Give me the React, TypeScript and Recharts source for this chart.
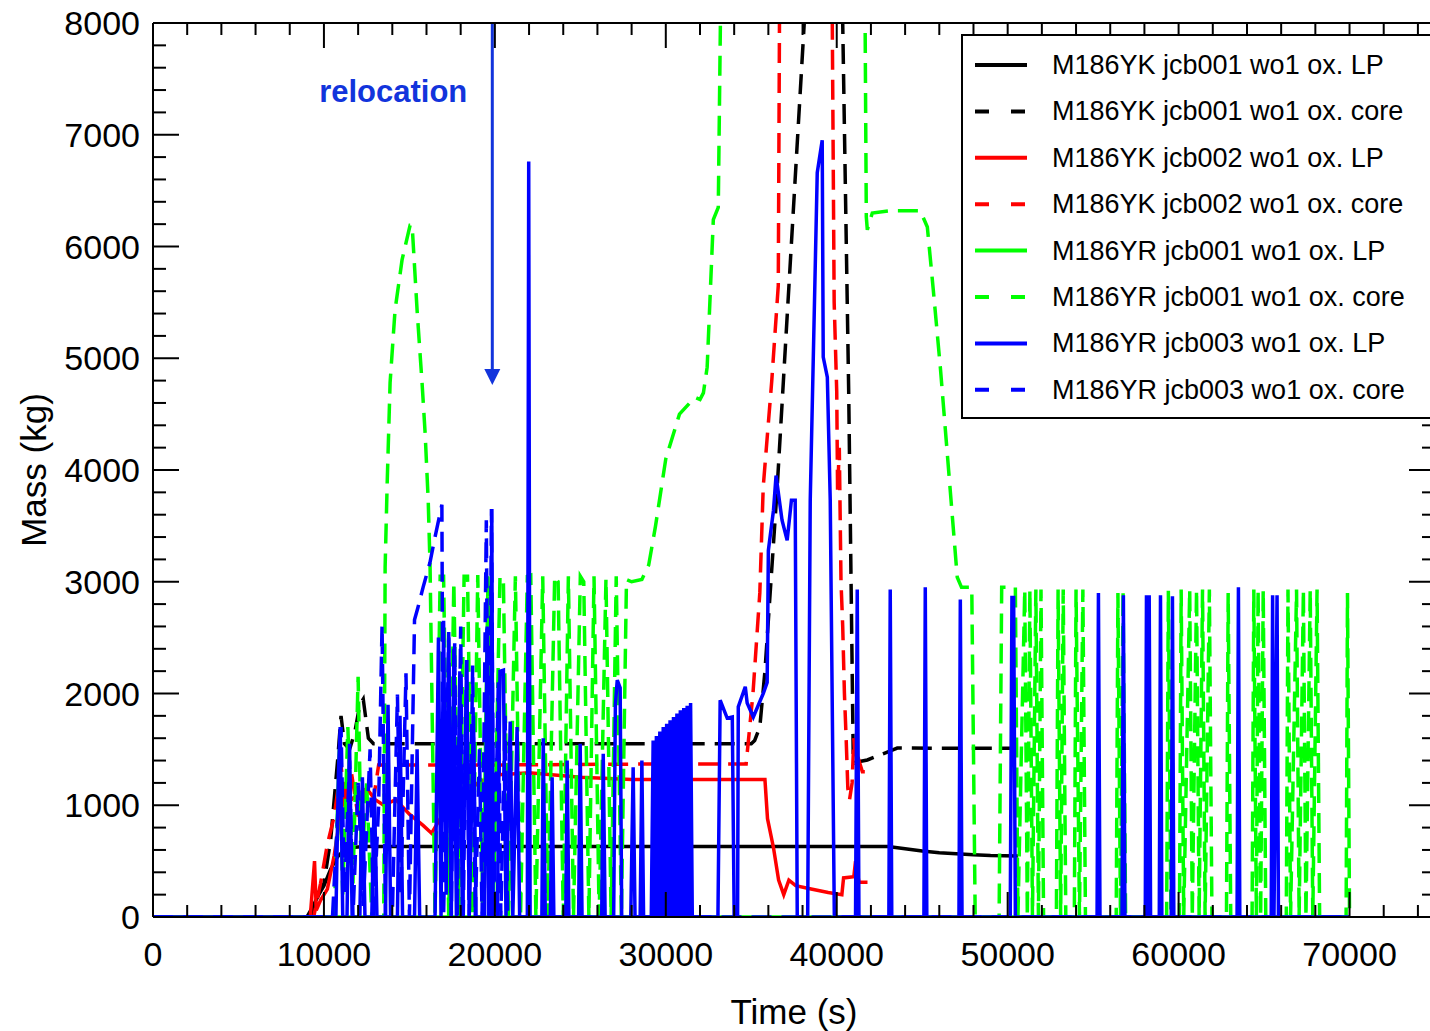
import React from 'react';
import { LineChart, Line, XAxis, YAxis, ReferenceLine, Legend, Label } from 'recharts';

type P = [number, number];

// ---- tick values ----
const X_LABEL_TICKS = [0, 10000, 20000, 30000, 40000, 50000, 60000, 70000];
const X_ALL_TICKS = [0, 2000, 4000, 6000, 8000, 10000, 12000, 14000, 16000, 18000, 20000, 22000, 24000, 26000, 28000, 30000, 32000, 34000, 36000, 38000, 40000, 42000, 44000, 46000, 48000, 50000, 52000, 54000, 56000, 58000, 60000, 62000, 64000, 66000, 68000, 70000, 72000, 74000];
const Y_LABEL_TICKS = [0, 1000, 2000, 3000, 4000, 5000, 6000, 7000, 8000];
const Y_ALL_TICKS = [0, 200, 400, 600, 800, 1000, 1200, 1400, 1600, 1800, 2000, 2200, 2400, 2600, 2800, 3000, 3200, 3400, 3600, 3800, 4000, 4200, 4400, 4600, 4800, 5000, 5200, 5400, 5600, 5800, 6000, 6200, 6400, 6600, 6800, 7000, 7200, 7400, 7600, 7800, 8000];

// ---- series (time s, mass kg) ----
const YK001_LP: P[] = [[0,0],[9000,0],[9300,80],[9700,200],[10000,280],[10400,430],[10800,540],[11200,600],[11800,625],[12400,630],[20000,630],[30000,630],[43000,630],[44000,610],[45000,590],[46000,575],[47000,565],[48000,557],[49000,550],[50600,545]];

const YK001_CORE: P[] = [[0,0],[9300,0],[9600,200],[10000,300],[10400,700],[10800,1400],[11000,1800],[11200,1550],[11500,1500],[11800,1650],[12100,1900],[12300,1950],[12600,1600],[12900,1550],[20000,1550],[30000,1550],[35000,1550],[35200,1580],[35500,1700],[35800,2200],[36500,3800],[37300,5900],[38100,8000],[38600,9500],[39900,9500],[40350,8000],[40700,4700],[40970,1380],[41790,1405],[42960,1476],[43540,1512],[46000,1510],[50600,1510]];

const YK002_LP: P[] = [[0,0],[9200,0],[9450,500],[9550,60],[9800,150],[10200,250],[10600,550],[11000,950],[11300,1150],[11600,1050],[12000,1100],[12500,1150],[13000,1050],[13500,1000],[14200,1050],[15000,920],[15800,820],[16300,750],[16800,880],[17500,950],[18300,1100],[19000,1200],[20000,1270],[22000,1290],[25000,1250],[28000,1230],[35800,1230],[35950,880],[36300,620],[36600,330],[36900,200],[37200,330],[37600,280],[38500,250],[39500,220],[40300,200],[40400,350],[41000,360],[41100,500],[41300,310],[41800,310]];

const YK002_CORE: P[] = [[0,0],[9400,0],[9800,300],[10200,650],[10600,900],[11000,1350],[11300,1000],[11600,1300],[12000,900],[12400,1100],[12800,950],[13200,1360],[14000,1360],[20000,1360],[30000,1370],[34700,1370],[35100,2000],[35500,2900],[35700,3850],[36200,4800],[36580,5650],[36650,8000],[36800,9500],[39600,9500],[39740,8000],[39850,5500],[40000,4700],[40050,3800],[40150,4200],[40250,3000],[40350,2600],[40450,2000],[40550,1600],[40650,1150],[40750,1050],[40900,1200],[41000,1600],[41100,1350],[41300,1400],[41500,1300],[41800,1300]];

const YR001_LP: P[] = [[0,0],[70000,0]];

const YR001_CORE: P[] = [[0,0],[10600,0],[10900,1500],[11100,200],[11400,1700],[11700,300],[12000,2150],[12200,400],[12500,1200],[12800,0],[13500,0],[13580,3130],[13700,3880],[13870,4780],[14160,5430],[14570,5880],[15040,6190],[15160,6190],[15450,5430],[15740,4780],[15920,4330],[16100,3730],[16210,3130],
[16500,0],[16800,3050],[17000,3050],[17300,0],[17600,3000],[17900,0],[18200,3050],[18400,3050],[18700,0],[19000,3060],[19300,0],[19600,3050],[19900,0],[20300,3050],[20500,3000],[20800,0],[21200,3050],[21500,0],[21900,3050],[22100,3060],[22400,0],[22800,3050],[23100,0],[23500,3050],[23700,3000],[24000,0],[24300,3050],[24600,0],[25000,3050],[25200,3000],[25500,0],[25800,3050],[26100,0],[26500,3030],[26800,0],[27100,3050],[27400,0],[27700,3020],[28000,3000],[28600,3020],[29000,3150],[29400,3500],[30000,4100],[30800,4500],[31700,4650],[32000,4630],[32200,4690],[32420,4920],[32780,6240],[33070,6350],[33190,7940],[33300,9500],[41600,9500],[41730,6265],[41790,6150],[42080,6300],[43130,6320],[44890,6320],[45300,6175],[45650,5610],[46060,4920],[46650,3800],[47050,3040],[47300,2950],[47900,2950],[48100,0],[49500,0],[49650,2950],[50450,2950],
[50600,0],[51000,2930],[51150,0],[51300,2930],[51450,0],[51650,2930],[51800,0],[51950,2930],[52100,0],[52850,0],[52950,2930],[53100,0],[53250,2930],[53400,0],[53900,0],[54000,2930],[54200,0],[54400,2930],[54550,0],[56350,0],[56450,2900],[56600,0],[56750,2930],[56900,0],[59300,0],[59400,2920],[59550,0],[60050,0],[60150,2930],[60300,0],[60650,2930],[60800,0],[61050,2930],[61200,0],[61400,2930],[61550,0],[61800,2930],[61950,0],[62800,0],[62900,2900],[63050,0],[64300,0],[64400,2930],[64550,0],[64650,2930],[64800,0],[64950,2930],[65100,0],[66300,0],[66400,2930],[66550,0],[66900,2930],[67050,0],[67300,2930],[67450,0],[67700,2930],[67850,0],[68100,2930],[68250,0],[69800,0],[69880,2900],[70000,0]];

const YR003_LP: P[] = [[0,0],[10700,0],[10850,1300],[10950,1700],[11100,0],[11350,0],[11500,1550],[11650,0],[12100,0],[12250,1250],[12400,0],[12800,0],[12950,1150],[13100,0],[13600,0],[13750,1900],[13900,0],[14300,0],[14450,1800],[14600,0],[15300,0],[15450,1500],[15600,0],[16500,0],[16700,2500],[16850,0],[17000,2650],[17150,200],[17300,2550],[17450,0],[17600,2400],[17750,0],[17950,2200],[18100,0],[18350,2300],[18500,0],[18750,1800],[18900,0],[19400,0],[19550,2600],[19650,0],[19750,0],[19820,3650],[19900,0],[20150,0],[20300,2200],[20500,2210],[20650,0],[20900,1750],[21050,0],[21300,1700],[21450,0],[21900,0],[21980,6760],[22060,0],[22750,0],[22830,1600],[22950,0],[23250,0],[23350,1250],[23450,0],[24150,0],[24230,1400],[24330,0],[24900,0],[24990,1550],[25100,0],[26250,0],[26340,1460],[26450,0],[26950,0],[27050,1900],[27160,2120],[27330,2050],[27420,0],[27950,0],[28090,1340],[28200,0],[28500,0],[28600,1400],[28700,0],[29150,0],[29260,1580],[29350,0],[29450,1620],[29550,0],[29650,1660],[29750,0],[29850,1700],[29950,0],[30050,1730],[30150,0],[30250,1760],[30350,0],[30450,1790],[30550,0],[30650,1820],[30750,0],[30850,1850],[30950,0],[31050,1870],[31150,0],[31250,1890],[31350,0],[31450,1915],[31550,0],[33050,0],[33180,1940],[33590,1780],[33890,1790],[34000,0],[34200,0],[34240,1880],[34650,2060],[34760,1915],[35120,1790],[35700,2000],[35930,2100],[36000,3280],[36300,3640],[36450,3950],[36800,3550],[37100,3370],[37350,3730],[37570,3730],[37690,0],[38300,0],[38450,3730],[38860,6660],[39150,6950],[39210,5010],[39450,4830],[39620,3730],[39860,0],[41100,0],[41200,2930],[41300,0],[43050,0],[43130,2930],[43220,0],[45100,0],[45180,2950],[45270,0],[47150,0],[47230,2840],[47330,0],[50150,0],[50250,2860],[50350,2860],[50450,0],[55230,0],[55310,2900],[55400,0],[56690,0],[56770,2880],[56860,0],[58050,0],[58120,2880],[58200,0],[58280,2880],[58360,0],[58870,0],[58940,2880],[59020,0],[59570,0],[59640,2870],[59720,0],[63420,0],[63500,2950],[63580,0],[65420,0],[65500,2880],[65580,0],[65760,2880],[65840,0],[70000,0]];

const YR003_CORE: P[] = [[0,0],[10500,0],[10800,900],[11000,1700],[11200,200],[11500,1400],[11700,0],[12000,1200],[12300,100],[12700,1500],[12900,0],[13200,1000],[13400,2610],[13600,0],[14000,0],[14300,1990],[14500,200],[14800,2180],[15000,0],[15300,2660],[15500,2770],[15800,2950],[16200,3170],[16500,3400],[16900,3690],[17000,0],[17300,2500],[17450,0],[17650,2450],[17800,0],[18000,2600],[18150,0],[18350,2300],[18500,0],[18700,2250],[18850,0],[19100,1500],[19250,0],[19500,3550],[19650,0],[19800,3650],[19950,0],[20200,2100],[20350,0],[20600,1800],[20750,0],[70000,0]];

const RELOCATION_TIME = 19850;
const RELOCATION_TOP = 8000;
const RELOCATION_TIP = 4760;

// ---- layout ----
const CHART_W = 1440;
const CHART_H = 1031;
const PLOT_TOP = 23;
const PLOT_RIGHT_MARGIN = 5;
const Y_AXIS_W = 153;
const X_AXIS_H = 114;
const PLOT_RIGHT = CHART_W - PLOT_RIGHT_MARGIN;

const FONT = 'Liberation Sans, Arial, Helvetica, sans-serif';
const RELOC_COLOR = '#1234dc';

const rows = (p: P[]) => p.map(([t, v]) => ({ t, v }));

const SERIES = [
  { name: 'M186YK jcb001 wo1 ox. LP', data: YK001_LP, color: '#000000', dashed: false },
  { name: 'M186YK jcb001 wo1 ox. core', data: YK001_CORE, color: '#000000', dashed: true },
  { name: 'M186YK jcb002 wo1 ox. LP', data: YK002_LP, color: '#ff0000', dashed: false },
  { name: 'M186YK jcb002 wo1 ox. core', data: YK002_CORE, color: '#ff0000', dashed: true },
  { name: 'M186YR jcb001 wo1 ox. LP', data: YR001_LP, color: '#00ff00', dashed: false },
  { name: 'M186YR jcb001 wo1 ox. core', data: YR001_CORE, color: '#00ff00', dashed: true },
  { name: 'M186YR jcb003 wo1 ox. LP', data: YR003_LP, color: '#0000ff', dashed: false },
  { name: 'M186YR jcb003 wo1 ox. core', data: YR003_CORE, color: '#0000ff', dashed: true },
];

const LegendBox = () => (
  <svg width={480} height={386} style={{ display: 'block' }}>
    <rect x={1} y={1} width={520} height={383} fill="#ffffff" stroke="#000" strokeWidth={2} />
    {SERIES.map((s, i) => {
      const cy = 31 + i * 46.4;
      return (
        <g key={s.name}>
          <line x1={14} x2={66} y1={cy} y2={cy} stroke={s.color} strokeWidth={4} strokeDasharray={s.dashed ? '14 22' : undefined} />
          <text x={91} y={cy} dominantBaseline="central" fontSize={27} fontFamily={FONT} fill="#000">{s.name}</text>
        </g>
      );
    })}
  </svg>
);

const RelocationArrow = (p: any) => {
  const { x1, y1, x2, y2 } = p;
  return (
    <g>
      <text x={x1 - 25} y={y1 + 79} textAnchor="end" fontWeight="bold" fontSize={31} fontFamily={FONT} fill={RELOC_COLOR}>relocation</text>
      <line x1={x1} y1={y1} x2={x2} y2={y2 - 14} stroke={RELOC_COLOR} strokeWidth={3} />
      <polygon points={`${x2 - 8},${y2 - 16} ${x2 + 8},${y2 - 16} ${x2},${y2}`} fill={RELOC_COLOR} />
    </g>
  );
};

// x tick: label (major only) plus inward tick marks on bottom and top frame
const XTick = (p: any) => {
  const { x, y, payload } = p;
  const v = payload.value;
  const major = v % 10000 === 0;
  const len = major ? 25 : 12;
  return (
    <g>
      <line x1={x} x2={x} y1={y} y2={y - len} stroke="#000" strokeWidth={2} />
      <line x1={x} x2={x} y1={PLOT_TOP} y2={PLOT_TOP + len} stroke="#000" strokeWidth={2} />
      {major && X_LABEL_TICKS.includes(v) ? (
        <text x={x} y={y + 49} textAnchor="middle" fontSize={34} fontFamily={FONT} fill="#000">{v}</text>
      ) : null}
    </g>
  );
};

// y tick: label (major only) plus inward tick marks on left and right frame
const YTick = (p: any) => {
  const { x, y, payload } = p;
  const v = payload.value;
  const major = v % 1000 === 0;
  const len = major ? 26 : 13;
  return (
    <g>
      <line x1={x} x2={x + len} y1={y} y2={y} stroke="#000" strokeWidth={2} />
      <line x1={PLOT_RIGHT} x2={PLOT_RIGHT - len} y1={y} y2={y} stroke="#000" strokeWidth={2} />
      {major ? (
        <text x={x - 13} y={y + 12} textAnchor="end" fontSize={34} fontFamily={FONT} fill="#000">{v}</text>
      ) : null}
    </g>
  );
};

export default function App() {
  return (
    <div style={{ position: 'absolute', left: 0, top: 0, width: 1430, height: CHART_H, overflow: 'hidden', background: '#fff' }}>
      <LineChart width={CHART_W} height={CHART_H} margin={{ top: PLOT_TOP, right: PLOT_RIGHT_MARGIN, bottom: 0, left: 0 }}>
        <XAxis xAxisId="main" dataKey="t" type="number" domain={[0, 75000]} allowDataOverflow ticks={X_ALL_TICKS} interval={0}
          height={X_AXIS_H} tickLine={false} tickSize={0} tickMargin={0}
          axisLine={{ stroke: '#000', strokeWidth: 2 }}
          tick={<XTick />}
          label={<Label content={(lp: any) => {
            const vb = lp.viewBox;
            return (
              <g>
                <line x1={vb.x} x2={vb.x + vb.width} y1={PLOT_TOP} y2={PLOT_TOP} stroke="#000" strokeWidth={2} />
                <text x={vb.x + vb.width / 2} y={vb.y + 107} textAnchor="middle" fontSize={35} fontFamily={FONT} fill="#000">Time (s)</text>
              </g>
            );
          }} />}
        />
        <YAxis yAxisId="main" type="number" domain={[0, 8000]} allowDataOverflow ticks={Y_ALL_TICKS} interval={0}
          width={Y_AXIS_W} tickLine={false} tickSize={0} tickMargin={0}
          axisLine={{ stroke: '#000', strokeWidth: 2 }}
          tick={<YTick />}
          label={<Label content={(lp: any) => {
            const vb = lp.viewBox;
            const cx = vb.x + 33;
            const cy = vb.y + vb.height / 2;
            return <text x={cx} y={cy} transform={`rotate(-90, ${cx}, ${cy})`} textAnchor="middle" dominantBaseline="central" fontSize={35} fontFamily={FONT} fill="#000">Mass (kg)</text>;
          }} />}
        />

        {SERIES.map((s) => (
          <Line key={s.name} xAxisId="main" yAxisId="main" data={rows(s.data)} dataKey="v" name={s.name}
            type="linear" dot={false} activeDot={false} isAnimationActive={false}
            stroke={s.color} strokeWidth={3.5} strokeDasharray={s.dashed ? '20 10' : undefined} />
        ))}

        <ReferenceLine xAxisId="main" yAxisId="main" ifOverflow="visible"
          segment={[{ x: RELOCATION_TIME, y: RELOCATION_TOP }, { x: RELOCATION_TIME, y: RELOCATION_TIP }]}
          shape={RelocationArrow} />

        <Legend layout="horizontal" verticalAlign="middle" align="center" content={() => <LegendBox />}
          wrapperStyle={{ position: 'absolute', left: 961, top: 34, width: 480, height: 386 }} />
      </LineChart>
    </div>
  );
}
